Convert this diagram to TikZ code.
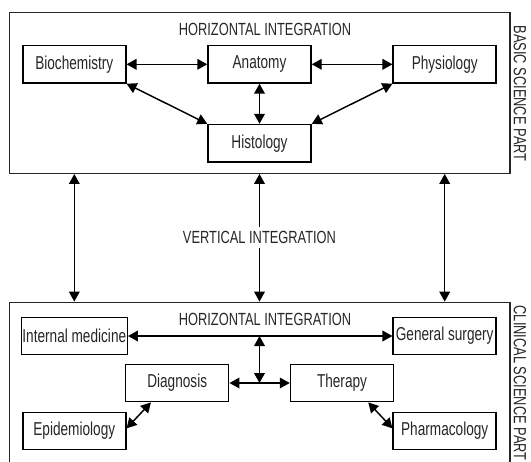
\documentclass[tikz,border=0pt]{standalone}
\usepackage{fontspec}
\setmainfont{Liberation Sans}[FakeStretch=0.73]
\usetikzlibrary{arrows.meta}

\begin{document}
\begin{tikzpicture}[x=0.75pt, y=-0.75pt,
    subject/.style={draw, line width=1.1pt, minimum width=77.25pt, minimum height=28pt, inner xsep=0.8pt, text=black!85, font=\fontsize{14}{16}\selectfont},
    part/.style={draw=black!85, line width=1pt, minimum width=375.5pt},
    heading/.style={inner sep=1pt, text=black!85, font=\fontsize{13.2}{15}\selectfont},
    link/.style={{Triangle[length=7.5pt,width=8pt]}-{Triangle[length=7.5pt,width=8pt]}, line width=1.1pt}]
    \useasboundingbox (0,0) rectangle (531,461);

    % the two parts
    \node[part, minimum height=120.75pt] (basic) at (259.65,92.8) {};
    \node[part, minimum height=133.3pt] (clinical) at (259.65,391.15) {};
    \node[heading, rotate=-90, anchor=west] (basiclbl) at (520,24) {BASIC SCIENCE PART};
    \node[heading, rotate=-90, anchor=west] (cliniclbl) at (520,304) {CLINICAL SCIENCE PART};

    % basic science part
    \node[heading] (hzbasic) at (265,29) {HORIZONTAL INTEGRATION};
    \node[subject] (bio) at (74.3,64.3) {Biochemistry};
    \node[subject] (ana) at (259.5,64.3) {Anatomy};
    \node[subject] (phys) at (444.7,64.3) {Physiology};
    \node[subject] (hist) at (259.5,143.2) {Histology};

    \draw[link] (bio) -- (ana);
    \draw[link] (ana) -- (phys);
    \draw[link] (ana) -- (hist);
    \draw[link] (bio.south east) -- (hist.north west);
    \draw[link] (phys.south west) -- (hist.north east);

    % clinical science part
    \node[heading] (hzclinic) at (265,319) {HORIZONTAL INTEGRATION};
    \node[subject] (intmed) at (74.3,336) {Internal medicine};
    \node[subject] (gensurg) at (444.7,336) {General surgery};
    \node[subject] (diag) at (177.2,383) {Diagnosis};
    \node[subject] (ther) at (342,383) {Therapy};
    \node[subject] (epi) at (74.3,431) {Epidemiology};
    \node[subject] (pharm) at (444.7,431) {Pharmacology};
    \coordinate (hub) at (259.5,383);

    \draw[link] (intmed) -- (gensurg);
    \draw[link] (diag) -- (ther);
    \draw[link] (hub |- intmed.east) -- (hub);
    \draw[link] ([xshift=19.5pt]diag.south west) -- ([yshift=2pt]epi.east);
    \draw[link] ([xshift=-19.5pt]ther.south east) -- ([yshift=2pt]pharm.west);

    % vertical integration
    \draw[link] (basic.south -| bio) -- (clinical.north -| bio);
    \draw[link] (basic.south -| ana) -- node[heading, fill=white, inner sep=3.3pt] (vtlbl) {VERTICAL INTEGRATION} (clinical.north -| ana);
    \draw[link] (basic.south -| phys) -- (clinical.north -| phys);
  \end{tikzpicture}
\end{document}
